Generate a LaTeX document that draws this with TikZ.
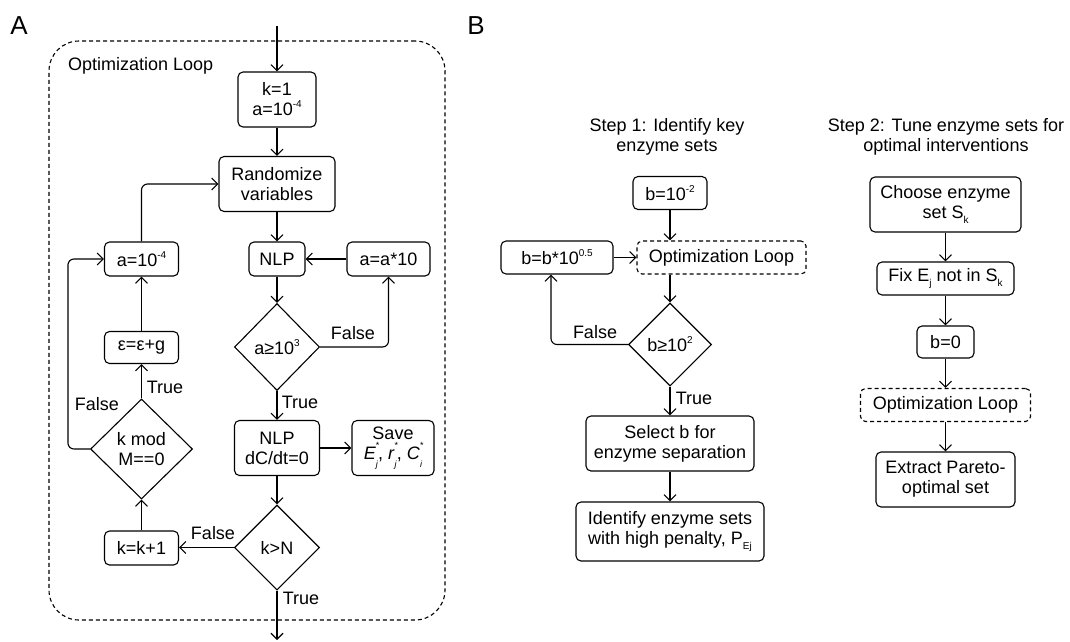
\documentclass[tikz,border=0pt]{standalone}
\usepackage{fontspec}
\setmainfont{Liberation Sans}
\usetikzlibrary{arrows.meta,shapes.geometric}
\newcommand\supx[1]{\raisebox{0.45em}{\fontsize{10}{10}\selectfont #1}}
\newcommand\subx[1]{\raisebox{-0.3em}{\fontsize{10}{10}\selectfont #1}}
\newcommand\subsupx[2]{\rlap{\raisebox{0.62em}{\fontsize{9}{9}\selectfont #2}}\raisebox{-0.42em}{\fontsize{9}{9}\selectfont #1}}
\begin{document}
\begin{tikzpicture}[x=1pt,y=-1pt,
  every node/.style={font=\fontsize{18}{20}\selectfont, align=center},
  box/.style={draw, rounded corners=5pt, line width=1.1pt, inner sep=0pt},
  dbox/.style={box, dash pattern=on 4pt off 3pt},
  dia/.style={draw, diamond, line width=1.1pt, inner sep=0pt},
  arr/.style={-{Straight Barb[length=6pt,width=12pt]}, line width=1.1pt},
  lbl/.style={inner sep=0pt},
  big/.style={font=\fontsize{26}{26}\selectfont, inner sep=0pt},
]
\useasboundingbox (0,0) rectangle (1070,641);

% panel labels
\node[big] (labA) at (19,26) {A};
\node[big] (labB) at (476,26) {B};

% ---------- Panel A ----------
\node[dbox, rounded corners=30pt, minimum width=396pt, minimum height=579pt] (loopA) at (247,330.5) {};
\node[lbl, anchor=west] (loopAt) at (68,66) {Optimization Loop};

\coordinate (inA) at (277,26);
\coordinate (outA) at (277,640);

\node[box, minimum width=78pt, minimum height=55pt] (k1) at (277,99.5) {k=1\\a=10\supx{-4}};
\node[box, minimum width=116pt, minimum height=55pt] (rand) at (277,184) {Randomize\\variables};
\node[box, minimum width=56pt, minimum height=34pt] (nlp) at (277,259) {NLP};
\node[box, minimum width=83pt, minimum height=34pt] (aa10) at (388.5,259) {a=a*10};
\node[box, minimum width=74pt, minimum height=34pt] (a4) at (141.5,259) {a=10\supx{-4}};
\node[dia, minimum width=85pt, minimum height=87pt] (dia1) at (277,347) {a≥10\supx{3}};
\node[box, minimum width=85pt, minimum height=55pt] (nlp2) at (277,448) {NLP\\dC/dt=0};
\node[box, minimum width=82pt, minimum height=55pt] (save) at (393,448)
  {Save\\\textit{E}\subsupx{\textit{j}}{*}, \textit{r}\subsupx{\textit{j}}{*}, \textit{C}\subsupx{\textit{i}}{*}};
\node[dia, minimum width=85pt, minimum height=85pt] (dia2) at (277,547.5) {k>N};
\node[box, minimum width=74pt, minimum height=34pt] (kk) at (141.5,548) {k=k+1};
\node[dia, minimum width=102pt, minimum height=100pt] (dia3) at (141.5,449) {k mod\\M==0};
\node[box, minimum width=74pt, minimum height=32pt] (eps) at (141.5,347.5) {ε=ε+g};

\draw[arr] (inA) -- (k1);
\draw[arr] (k1) -- (rand);
\draw[arr] (rand) -- (nlp);
\draw[arr] (nlp) -- (dia1);
\draw[arr, rounded corners=6pt] (dia1.east) -| (aa10.south);
\draw[arr] (aa10) -- (nlp);
\draw[arr] (dia1) -- (nlp2);
\draw[arr] (nlp2) -- (save);
\draw[arr] (nlp2) -- (dia2);
\draw[arr] (dia2.west) -- (dia2.west -| kk.east);
\draw[arr] (kk) -- (dia3);
\draw[arr] (dia3) -- (eps);
\draw[arr] (eps) -- (a4);
\draw[arr, rounded corners=6pt] (a4.north) |- (rand.west);
\draw[arr, rounded corners=6pt] (dia3.west) -- ++(-22,0) |- (a4.west);
\draw[arr] (dia2.south) -- (outA);

\node[lbl] (f1) at (353,333) {False};
\node[lbl] (t1) at (300,402) {True};
\node[lbl] (t2) at (165,387) {True};
\node[lbl] (f2) at (97,404) {False};
\node[lbl] (f3) at (213,533) {False};
\node[lbl] (t3) at (301,598) {True};

% ---------- Panel B, step 1 ----------
\node[lbl] (st1) at (667,137) {Step 1: Identify key\\enzyme sets};
\node[box, minimum width=74pt, minimum height=33pt] (b02) at (670,193) {b=10\supx{-2}};
\node[dbox, minimum width=169pt, minimum height=33pt] (opt1) at (721.5,257.5) {Optimization Loop};
\node[box, minimum width=112pt, minimum height=33pt] (bb) at (557,257.5) {b=b*10\supx{0.5}};
\node[dia, minimum width=83pt, minimum height=83pt] (dia4) at (670,344.5) {b≥10\supx{2}};
\node[box, minimum width=168pt, minimum height=55pt] (sel) at (670,443.5) {Select b for\\enzyme separation};
\node[box, minimum width=188pt, minimum height=59pt] (ident) at (670,531.5) {Identify enzyme sets\\with high penalty, P\subx{Ej}};

\draw[arr] (b02.south) -- (b02.south |- opt1.north);
\draw[arr] (bb.east) -- (opt1.west);
\draw[arr] (b02.south |- opt1.south) -- (dia4.north);
\draw[arr, rounded corners=6pt] (dia4.west) -| ([xshift=-6pt]bb.south);
\draw[arr] (dia4) -- (sel);
\draw[arr] (sel) -- (ident);
\node[lbl] (f4) at (595,332) {False};
\node[lbl] (t4) at (694,398) {True};

% ---------- Panel B, step 2 ----------
\node[lbl] (st2) at (946,137) {Step 2: Tune enzyme sets for\\optimal interventions};
\node[box, minimum width=151pt, minimum height=55pt] (choose) at (945.5,204.5) {Choose enzyme\\set S\subx{k}};
\node[box, minimum width=137pt, minimum height=33pt] (fix) at (945.5,278.5) {Fix E\subx{j} not in S\subx{k}};
\node[box, minimum width=57pt, minimum height=32pt] (b0) at (945.5,342) {b=0};
\node[dbox, minimum width=170pt, minimum height=33pt] (opt2) at (945.5,405) {Optimization Loop};
\node[box, minimum width=139pt, minimum height=55pt] (extract) at (945.5,479.5) {Extract Pareto-\\optimal set};

\draw[arr] (choose) -- (fix);
\draw[arr] (fix) -- (b0);
\draw[arr] (b0) -- (opt2);
\draw[arr] (opt2) -- (extract);
\end{tikzpicture}
\end{document}
